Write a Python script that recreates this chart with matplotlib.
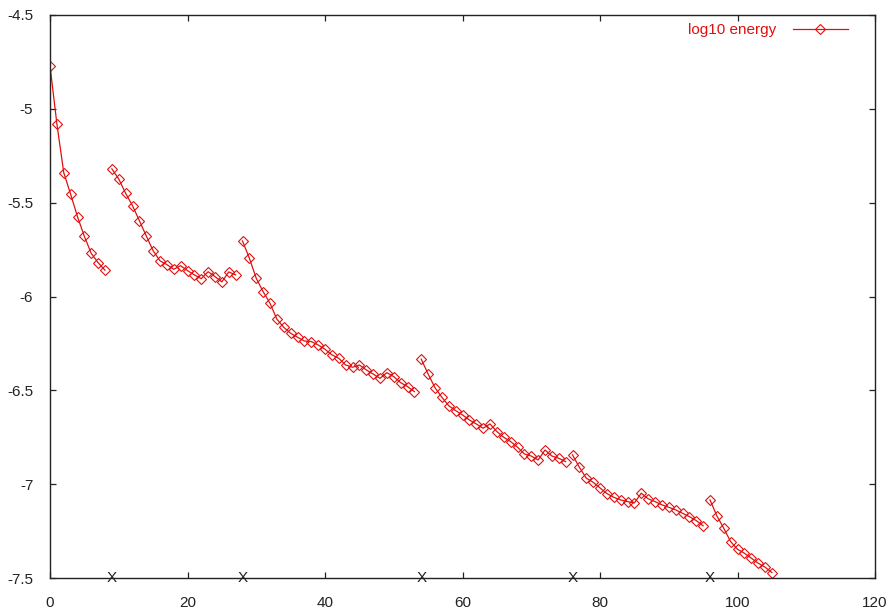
import numpy as np
import matplotlib
matplotlib.use("Agg")
import matplotlib.pyplot as plt

plt.rcParams['font.family'] = ['Liberation Sans', 'DejaVu Sans']

# log10 energy per iteration (x = 0 .. 105)
energy = [
    -4.77, -5.08, -5.34, -5.455, -5.575, -5.68, -5.77, -5.82, -5.86,            # 0-8
    -5.32, -5.374, -5.45, -5.516, -5.596, -5.677, -5.756, -5.81, -5.83, -5.855,  # 9-18
    -5.836, -5.862, -5.885, -5.905, -5.868, -5.894, -5.922, -5.869, -5.885,      # 19-27
    -5.704, -5.796, -5.903, -5.974, -6.036, -6.121, -6.164, -6.196, -6.217,      # 28-36
    -6.237, -6.24, -6.258, -6.281, -6.311, -6.329, -6.365, -6.377, -6.365,       # 37-45
    -6.391, -6.413, -6.436, -6.406, -6.427, -6.459, -6.48, -6.507,               # 46-53
    -6.334, -6.413, -6.486, -6.537, -6.582, -6.608, -6.631, -6.658, -6.679,      # 54-62
    -6.702, -6.679, -6.72, -6.75, -6.773, -6.803, -6.839, -6.85, -6.871,         # 63-71
    -6.818, -6.85, -6.862, -6.88,                                                # 72-75
    -6.844, -6.91, -6.968, -6.99, -7.02, -7.05, -7.07, -7.084, -7.093, -7.1,     # 76-85
    -7.048, -7.078, -7.093, -7.11, -7.123, -7.137, -7.155, -7.173, -7.194,       # 86-94
    -7.222,                                                                      # 95
    -7.084, -7.169, -7.235, -7.306, -7.347, -7.368, -7.394, -7.421, -7.442,      # 96-104
    -7.471,                                                                      # 105
]
restarts = [9, 28, 54, 76, 96]          # iterations marked with "X"
xticks = [0, 20, 40, 60, 80, 100, 120]
xticklabels = ["0", "20", "40", "60", "80", "100", "120"]
yticks = [-7.5, -7, -6.5, -6, -5.5, -5, -4.5]
yticklabels = ["-7.5", "-7", "-6.5", "-6", "-5.5", "-5", "-4.5"]
series_label = "log10 energy"

RED = "#e01010"

fig = plt.figure(figsize=(8.92, 6.15), dpi=100)
ax = fig.add_axes([50 / 892, 37 / 615, 825 / 892, 563 / 615])

x = np.arange(len(energy))
y = np.array(energy)
xs = np.split(x, restarts)
ys = np.split(y, restarts)
for i, (xx, yy) in enumerate(zip(xs, ys)):
    ax.plot(xx, yy, color=RED, lw=0.9, marker="D", ms=5, mfc="none",
            mec=RED, mew=0.8, label=series_label if i == 0 else None)

for r in restarts:
    ax.text(r, -7.5, "X", ha="center", va="center", fontsize=11, color="#222222",
            clip_on=False)

ax.set_xlim(0, 120)
ax.set_ylim(-7.5, -4.5)
ax.set_xticks(xticks)
ax.set_xticklabels(xticklabels)
ax.set_yticks(yticks)
ax.set_yticklabels(yticklabels)
ax.tick_params(direction="in", length=4, width=0.9, top=True, right=True,
               labelsize=11, colors="#222222")
ax.tick_params(axis="x", pad=13)
ax.tick_params(axis="y", pad=12)
for s in ax.spines.values():
    s.set_linewidth(1.0)
    s.set_color("#222222")

leg = ax.legend(loc="upper right", bbox_to_anchor=(0.967, 0.986), frameon=False,
                markerfirst=False, handlelength=3.6, handletextpad=1.1,
                borderpad=0, borderaxespad=0, fontsize=11, labelcolor=RED)

fig.savefig("out.png", dpi=100, facecolor="white")
